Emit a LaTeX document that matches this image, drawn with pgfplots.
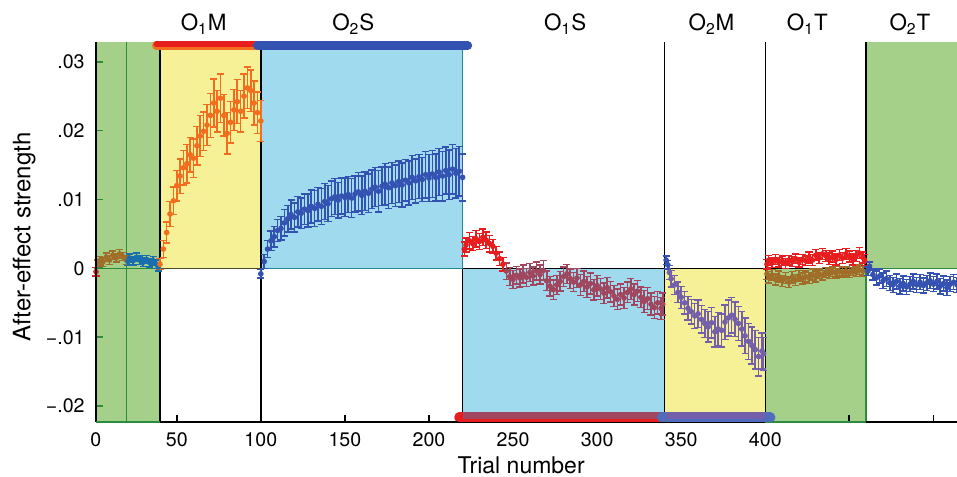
\documentclass[border=0pt]{standalone}
\usepackage{fontspec}
\setmainfont{TeX Gyre Heros}
\usepackage{pgfplots}
\pgfplotsset{compat=1.18}

\definecolor{gfill}{HTML}{A5D08A}
\definecolor{yfill}{HTML}{F6F096}
\definecolor{bfill}{HTML}{A0DAEE}
\definecolor{gline}{HTML}{2A8C3C}
\definecolor{tline}{HTML}{1F8A96}
\definecolor{cOrange}{HTML}{F26E1E}
\definecolor{cBlue}{HTML}{3452B2}
\definecolor{cRed}{HTML}{E81E1E}
\definecolor{cMaroon}{HTML}{A0465F}
\definecolor{cPurple}{HTML}{735FAA}
\definecolor{cBrown}{HTML}{A06E28}
\definecolor{cTeal}{HTML}{196EAF}

\pgfplotsset{
  dat/.style={only marks, mark=*, mark size=1.1pt, line width=0.6pt,
    error bars/.cd, y dir=both, y explicit,
    error bar style={line width=0.8pt},
    error mark options={rotate=90, mark size=1.8pt, line width=0.7pt}},
}

\begin{document}
\begin{tikzpicture}
\begin{axis}[
  name=ax,
  set layers, axis on top,
  scale only axis,
  width=430.65pt, height=190pt,
  xmin=1.8, xmax=514, ymin=-0.02226, ymax=0.0329,
  clip=false,
  axis x line*=bottom, axis y line*=left,
  axis line style={-, black, line width=0.9pt},
  tick align=inside, major tick length=3.6pt,
  xtick={1.8,50,100,150,200,250,300,350,400,450,500},
  xticklabels={0,50,100,150,200,250,300,350,400,,},
  ytick={-0.02,-0.01,0,0.01,0.02,0.03},
  yticklabels={−.02,−.01,0,.01,.02,.03},
  scaled y ticks=false,
  xtick style={black, line width=0.9pt},
  ytick style={gline, line width=0.9pt},
  tick label style={font=\fontsize{9.8}{11}\selectfont},
  xticklabel style={anchor=center, yshift=-9pt},
  yticklabel style={anchor=east, xshift=-2pt},
  xlabel={Trial number},
  xlabel style={at={(axis description cs:0.494,0)}, anchor=center, yshift=-22pt,
    font=\fontsize{11.5}{13}\selectfont},
  ylabel={After-effect strength},
  ylabel style={at={(axis description cs:-0.083,0.486)}, anchor=center,
    font=\fontsize{12}{14}\selectfont},
]

% background blocks
\fill[gfill] (axis cs:1.8,-0.02226) rectangle (axis cs:40,0.0329);
\fill[yfill] (axis cs:40,0) rectangle (axis cs:100,0.0329);
\fill[bfill] (axis cs:100,0) rectangle (axis cs:220,0.0329);
\fill[bfill] (axis cs:220,-0.02226) rectangle (axis cs:340,0);
\fill[yfill] (axis cs:340,-0.02226) rectangle (axis cs:400,0);
\fill[gfill] (axis cs:400,-0.02226) rectangle (axis cs:460,0);
\fill[gfill] (axis cs:460,0) rectangle (axis cs:514,0.0329);

% block borders and zero line
\draw[gline, line width=0.75pt] (axis cs:20,-0.02226) -- (axis cs:20,0.0329);
\draw[black, line width=0.75pt] (axis cs:40,-0.02226) -- (axis cs:40,0.0329);
\draw[black, line width=0.75pt] (axis cs:100,-0.02226) -- (axis cs:100,0.0329);
\draw[tline, line width=0.75pt] (axis cs:220,0) -- (axis cs:220,0.0329);
\draw[black, line width=0.75pt] (axis cs:220,-0.02226) -- (axis cs:220,0);
\draw[black, line width=0.75pt] (axis cs:340,-0.02226) -- (axis cs:340,0.0329);
\draw[black, line width=0.75pt] (axis cs:400,-0.02226) -- (axis cs:400,0.0329);
\draw[black, line width=0.75pt] (axis cs:460,0) -- (axis cs:460,0.0329);
\draw[gline, line width=0.75pt] (axis cs:460,-0.02226) -- (axis cs:460,0);
\draw[gline, line width=0.75pt] (axis cs:1.8,0) -- (axis cs:40,0);
\draw[black!70!yfill, line width=0.75pt] (axis cs:40,0) -- (axis cs:100,0);
\draw[tline, line width=0.75pt] (axis cs:100,0) -- (axis cs:220,0);
\draw[black, line width=0.75pt] (axis cs:220,0) -- (axis cs:460,0);
\draw[gline, line width=0.75pt] (axis cs:460,0) -- (axis cs:514,0);

% baseline trials
\addplot[color=cRed, dat] table[x=x, y=y, y error=e] {
x y e
2 -0.0005 0.0006
};
\addplot[color=cBrown, dat] table[x=x, y=y, y error=e] {
x y e
3 0.0006 0.0006
4 0.0011 0.0006
6 0.0009 0.0006
8 0.0016 0.0006
10 0.0012 0.0006
12 0.0019 0.0006
14 0.0015 0.0006
16 0.0021 0.0006
18 0.0017 0.0006
20 0.0012 0.0006
};
\addplot[color=cTeal, dat] table[x=x, y=y, y error=e] {
x y e
21 0.0010 0.0006
22 0.0015 0.0006
24 0.0011 0.0006
26 0.0016 0.0006
28 0.0012 0.0006
30 0.0009 0.0006
32 0.0013 0.0006
34 0.0008 0.0006
36 0.0011 0.0006
38 0.0006 0.0006
39 0.0002 0.0006
};

% O1M
\addplot[color=cOrange, dat] table[x=x, y=y, y error=e] {
x y e
40 0.0006 0.0008
42 0.0028 0.0012
44 0.0052 0.0015
46 0.0079 0.0018
48 0.0098 0.0020
50 0.0120 0.0022
52 0.0134 0.0025
54 0.0146 0.0025
56 0.0152 0.0028
58 0.0165 0.0025
60 0.0160 0.0028
62 0.0178 0.0028
64 0.0192 0.0030
66 0.0199 0.0028
68 0.0208 0.0030
70 0.0222 0.0032
72 0.0240 0.0035
74 0.0228 0.0030
76 0.0247 0.0035
78 0.0222 0.0030
80 0.0196 0.0030
82 0.0212 0.0030
84 0.0230 0.0030
86 0.0242 0.0032
88 0.0228 0.0030
90 0.0250 0.0032
92 0.0262 0.0030
94 0.0258 0.0030
96 0.0240 0.0032
98 0.0226 0.0030
100 0.0214 0.0030
};

% O2S
\addplot[color=cBlue, dat] table[x=x, y=y, y error=e] {
x y e
100 -0.0008 0.0006
102 0.0010 0.0010
104 0.0028 0.0012
106 0.0040 0.0014
108 0.0046 0.0015
110 0.0055 0.0016
112 0.0058 0.0017
114 0.0066 0.0019
116 0.0072 0.0019
118 0.0078 0.0021
120 0.0074 0.0021
122 0.0082 0.0022
124 0.0080 0.0022
126 0.0086 0.0022
128 0.0084 0.0024
130 0.0090 0.0024
132 0.0087 0.0026
134 0.0093 0.0024
136 0.0090 0.0026
138 0.0097 0.0026
140 0.0094 0.0026
142 0.0101 0.0026
144 0.0104 0.0026
146 0.0099 0.0026
148 0.0105 0.0026
150 0.0103 0.0028
152 0.0107 0.0026
154 0.0102 0.0028
156 0.0108 0.0026
158 0.0111 0.0028
160 0.0106 0.0028
162 0.0112 0.0028
164 0.0109 0.0028
166 0.0115 0.0028
168 0.0118 0.0028
170 0.0112 0.0030
172 0.0119 0.0028
174 0.0122 0.0030
176 0.0117 0.0030
178 0.0124 0.0030
180 0.0120 0.0030
182 0.0126 0.0030
184 0.0121 0.0032
186 0.0128 0.0030
188 0.0124 0.0032
190 0.0132 0.0032
192 0.0127 0.0032
194 0.0133 0.0032
196 0.0129 0.0032
198 0.0136 0.0034
200 0.0131 0.0034
202 0.0137 0.0034
204 0.0132 0.0034
206 0.0140 0.0034
208 0.0134 0.0036
210 0.0142 0.0034
212 0.0136 0.0036
214 0.0144 0.0036
216 0.0138 0.0036
218 0.0141 0.0036
220 0.0132 0.0034
};

% O1S
\addplot[color=cRed, dat] table[x=x, y=y, y error=e] {
x y e
221 0.0028 0.0010
222 0.0034 0.0010
224 0.0040 0.0012
226 0.0036 0.0010
228 0.0043 0.0012
230 0.0039 0.0012
232 0.0045 0.0012
234 0.0041 0.0012
236 0.0036 0.0012
238 0.0032 0.0010
240 0.0022 0.0010
242 0.0014 0.0010
244 0.0006 0.0010
};
\addplot[color=cMaroon, dat] table[x=x, y=y, y error=e] {
x y e
246 -0.0004 0.0012
248 -0.0012 0.0013
250 -0.0016 0.0013
252 -0.0010 0.0013
254 -0.0014 0.0013
256 -0.0008 0.0013
258 -0.0013 0.0013
260 -0.0006 0.0013
262 -0.0011 0.0013
264 -0.0004 0.0013
266 -0.0009 0.0014
268 -0.0003 0.0014
270 -0.0018 0.0014
272 -0.0026 0.0014
274 -0.0031 0.0014
276 -0.0024 0.0014
278 -0.0019 0.0014
280 -0.0012 0.0014
282 -0.0008 0.0014
284 -0.0015 0.0014
286 -0.0020 0.0014
288 -0.0014 0.0014
290 -0.0024 0.0015
292 -0.0019 0.0015
294 -0.0027 0.0015
296 -0.0022 0.0015
298 -0.0031 0.0015
300 -0.0025 0.0015
302 -0.0030 0.0015
304 -0.0036 0.0015
306 -0.0028 0.0015
308 -0.0034 0.0015
310 -0.0040 0.0015
312 -0.0045 0.0015
314 -0.0038 0.0015
316 -0.0043 0.0015
318 -0.0035 0.0015
320 -0.0030 0.0015
322 -0.0038 0.0015
324 -0.0033 0.0015
326 -0.0042 0.0015
328 -0.0048 0.0016
330 -0.0044 0.0016
332 -0.0052 0.0016
334 -0.0057 0.0016
336 -0.0050 0.0016
338 -0.0058 0.0016
339 -0.0052 0.0016
};

% O2M
\addplot[color=cBlue, dat] table[x=x, y=y, y error=e] {
x y e
341 0.0012 0.0006
342 0.0005 0.0006
};
\addplot[color=cPurple, dat] table[x=x, y=y, y error=e] {
x y e
343 -0.0006 0.0010
344 -0.0015 0.0012
346 -0.0024 0.0014
348 -0.0035 0.0015
350 -0.0042 0.0016
352 -0.0050 0.0016
354 -0.0058 0.0017
356 -0.0063 0.0018
358 -0.0069 0.0018
360 -0.0066 0.0020
362 -0.0074 0.0020
364 -0.0080 0.0020
366 -0.0085 0.0022
368 -0.0079 0.0022
370 -0.0092 0.0022
372 -0.0088 0.0024
374 -0.0090 0.0024
376 -0.0078 0.0025
378 -0.0072 0.0026
380 -0.0068 0.0026
382 -0.0074 0.0025
384 -0.0080 0.0025
386 -0.0088 0.0025
388 -0.0098 0.0026
390 -0.0106 0.0026
392 -0.0112 0.0027
394 -0.0118 0.0028
396 -0.0128 0.0028
398 -0.0120 0.0026
399 -0.0124 0.0024
};

% O1T
\addplot[color=cBrown, dat] table[x=x, y=y, y error=e] {
x y e
401 -0.0008 0.0008
402 -0.0013 0.0008
404 -0.0010 0.0008
406 -0.0016 0.0008
408 -0.0012 0.0008
410 -0.0018 0.0008
412 -0.0014 0.0008
414 -0.0020 0.0008
416 -0.0013 0.0008
418 -0.0017 0.0008
420 -0.0011 0.0008
422 -0.0015 0.0008
424 -0.0012 0.0008
426 -0.0014 0.0008
428 -0.0009 0.0008
430 -0.0012 0.0008
432 -0.0008 0.0007
434 -0.0010 0.0007
436 -0.0006 0.0007
438 -0.0008 0.0007
440 -0.0005 0.0007
442 -0.0007 0.0007
444 -0.0004 0.0007
446 -0.0006 0.0007
448 -0.0004 0.0007
450 -0.0006 0.0007
452 -0.0003 0.0007
454 -0.0005 0.0007
456 -0.0002 0.0007
458 -0.0004 0.0007
};
\addplot[color=cRed, dat] table[x=x, y=y, y error=e] {
x y e
401 0.0006 0.0007
402 0.0012 0.0007
404 0.0008 0.0007
406 0.0013 0.0007
408 0.0009 0.0007
410 0.0011 0.0007
412 0.0007 0.0007
414 0.0012 0.0007
416 0.0010 0.0007
418 0.0014 0.0007
420 0.0009 0.0007
422 0.0013 0.0007
424 0.0011 0.0007
426 0.0016 0.0008
428 0.0012 0.0008
430 0.0019 0.0008
432 0.0015 0.0008
434 0.0021 0.0008
436 0.0018 0.0008
438 0.0014 0.0008
440 0.0017 0.0008
442 0.0013 0.0008
444 0.0019 0.0008
446 0.0015 0.0008
448 0.0021 0.0008
450 0.0017 0.0008
452 0.0013 0.0008
454 0.0018 0.0008
456 0.0022 0.0008
458 0.0016 0.0008
459 0.0012 0.0008
};

% O2T
\addplot[color=cBlue, dat] table[x=x, y=y, y error=e] {
x y e
461 -0.0004 0.0006
462 0.0003 0.0006
464 -0.0009 0.0008
466 -0.0014 0.0010
468 -0.0011 0.0010
470 -0.0018 0.0011
472 -0.0015 0.0011
474 -0.0021 0.0011
476 -0.0024 0.0011
478 -0.0019 0.0011
480 -0.0026 0.0011
482 -0.0022 0.0011
484 -0.0027 0.0011
486 -0.0023 0.0011
488 -0.0019 0.0011
490 -0.0024 0.0011
492 -0.0020 0.0011
494 -0.0025 0.0011
496 -0.0021 0.0011
498 -0.0018 0.0011
500 -0.0023 0.0011
502 -0.0019 0.0011
504 -0.0026 0.0011
506 -0.0022 0.0011
508 -0.0028 0.0011
510 -0.0023 0.0011
512 -0.0020 0.0011
514 -0.0024 0.0011
};

% condition bars on top and bottom edges
\begin{pgfonlayer}{axis foreground}
\draw[gline, line width=0.9pt] (axis cs:1.8,-0.02226) -- (axis cs:40,-0.02226);
\draw[gline, line width=0.9pt] (axis cs:400,-0.02226) -- (axis cs:460,-0.02226);
\draw[cOrange, line width=4.5pt, line cap=round] (axis cs:38,0.03234) -- (axis cs:99,0.03234);
\draw[cRed, line width=3pt, line cap=round] (axis cs:38,0.0326) -- (axis cs:99,0.0326);
\draw[cBlue, line width=4.5pt, line cap=round] (axis cs:98,0.03234) -- (axis cs:223,0.03234);
\draw[cRed, line width=5pt, line cap=round] (axis cs:218,-0.02165) -- (axis cs:338,-0.02165);
\draw[cMaroon, line width=3.4pt] (axis cs:220.5,-0.02139) -- (axis cs:340,-0.02139);
\draw[cBlue!85!white, line width=5pt, line cap=round] (axis cs:338.5,-0.02165) -- (axis cs:403,-0.02165);
\draw[cPurple, line width=3.6pt] (axis cs:341,-0.02139) -- (axis cs:400,-0.02139);
\end{pgfonlayer}

% condition names
\begin{scope}[every node/.style={anchor=base, font=\fontsize{11.2}{13}\selectfont}]
\node at (axis cs:66,0.0329) [yshift=5.5pt] {O\textsubscript{1}M};
\node at (axis cs:155,0.0329) [yshift=5.5pt] {O\textsubscript{2}S};
\node at (axis cs:281,0.0329) [yshift=5.5pt] {O\textsubscript{1}S};
\node at (axis cs:368,0.0329) [yshift=5.5pt] {O\textsubscript{2}M};
\node at (axis cs:425,0.0329) [yshift=5.5pt] {O\textsubscript{1}T};
\node at (axis cs:486,0.0329) [yshift=5.5pt] {O\textsubscript{2}T};
\end{scope}
\end{axis}
\pgfresetboundingbox
\path[use as bounding box] ([xshift=-47.85pt,yshift=-27.15pt]ax.south west)
  rectangle ([yshift=20.85pt]ax.north east);
\end{tikzpicture}
\end{document}
